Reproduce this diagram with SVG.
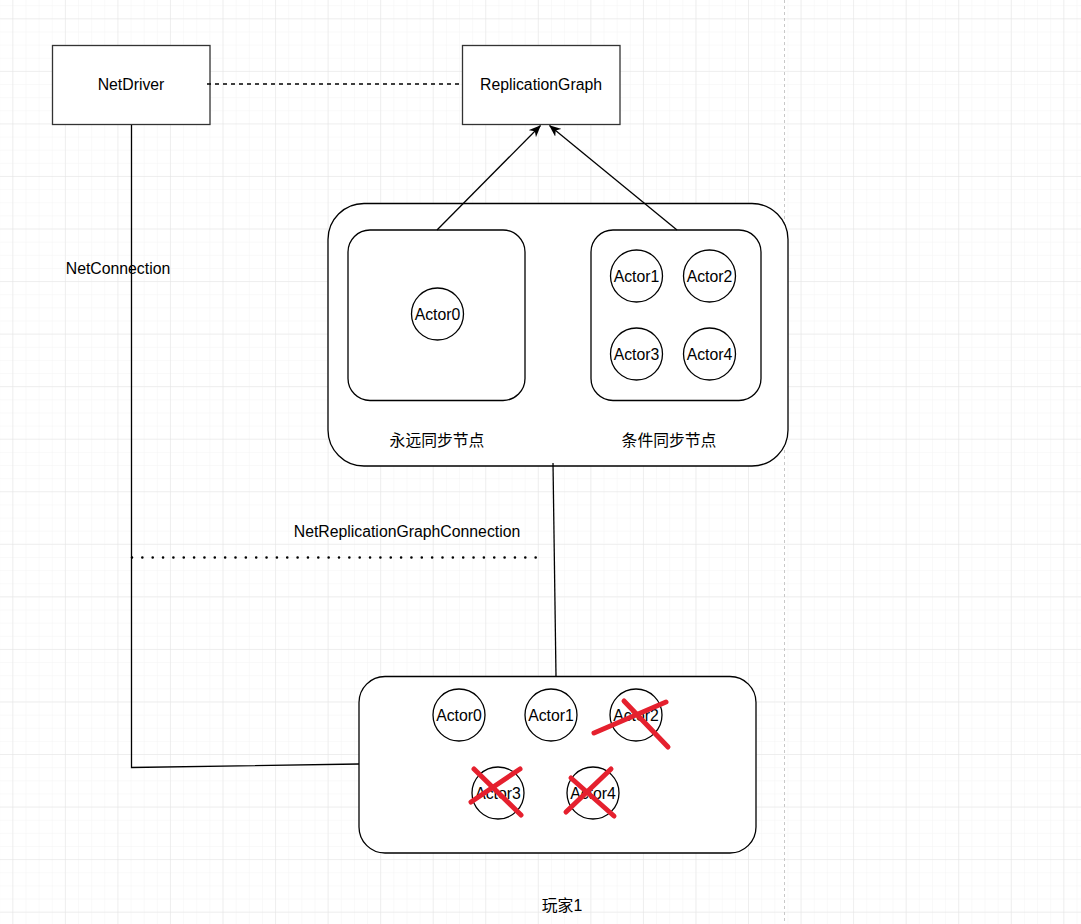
<svg xmlns="http://www.w3.org/2000/svg" width="1081" height="924" viewBox="0 0 1081 924">
<defs>
<pattern id="minor" x="0.16" y="6.16" width="13.1375" height="13.1375" patternUnits="userSpaceOnUse">
<path d="M13.1375 0V13.1375M0 13.1375H13.1375" fill="none" stroke="#f3f3f3" stroke-width="1"/>
</pattern>
<pattern id="major" x="-39.25" y="-33.25" width="52.55" height="52.55" patternUnits="userSpaceOnUse">
<path d="M52.55 0V52.55M0 52.55H52.55" fill="none" stroke="#e4e4e4" stroke-width="1"/>
</pattern>
<marker id="arr" viewBox="0 0 12 10" refX="11.5" refY="5" markerWidth="12" markerHeight="10" markerUnits="userSpaceOnUse" orient="auto">
<path d="M0 0L12 5L0 10L3.5 5Z" fill="#000"/>
</marker>
<style>
.t{font-family:"Liberation Sans",Arial,"Noto Sans CJK SC",sans-serif;font-size:15.8px;fill:#000;text-anchor:middle;dominant-baseline:central}
.box{fill:#fff;stroke:#333;stroke-width:1.3}
.rbox{fill:#fff;stroke:#000;stroke-width:1.3}
.c{fill:#fff;stroke:#000;stroke-width:1.3}
.ln{fill:none;stroke:#000;stroke-width:1.3}
.x{stroke:#e5202e;stroke-width:5;stroke-linecap:round}
</style>
</defs>
<rect width="1081" height="924" fill="#fff"/>
<rect width="1081" height="924" fill="url(#minor)"/>
<rect width="1081" height="924" fill="url(#major)"/>
<line x1="784.5" y1="0" x2="784.5" y2="924" stroke="#c8c8c8" stroke-width="1" stroke-dasharray="3 3"/>

<g id="netdriver">
<rect class="box" x="52.5" y="45.5" width="157.5" height="79"/>
<text class="t" x="131" y="84.5">NetDriver</text>
</g>
<g id="replicationgraph">
<rect class="box" x="462.5" y="45.5" width="157.5" height="79"/>
<text class="t" x="541" y="84.5">ReplicationGraph</text>
</g>

<g id="graph-container">
<rect class="rbox" x="328" y="203.5" width="460" height="262.5" rx="36" ry="36"/>
<text class="t" x="437" y="440">永远同步节点</text>
<text class="t" x="669" y="440">条件同步节点</text>
</g>
<g id="always-node">
<rect class="rbox" x="348" y="230" width="177" height="170.5" rx="22" ry="22"/>
</g>
<g id="cond-node">
<rect class="rbox" x="591" y="230" width="170" height="170.5" rx="22" ry="22"/>
</g>
<g id="g-actor0"><circle class="c" cx="437.5" cy="314" r="26"/><text class="t" x="437.5" y="314">Actor0</text></g>
<g id="g-actor1"><circle class="c" cx="636.5" cy="276" r="26"/><text class="t" x="636.5" y="276">Actor1</text></g>
<g id="g-actor2"><circle class="c" cx="709.5" cy="276" r="26"/><text class="t" x="709.5" y="276">Actor2</text></g>
<g id="g-actor3"><circle class="c" cx="636.5" cy="354" r="26"/><text class="t" x="636.5" y="354">Actor3</text></g>
<g id="g-actor4"><circle class="c" cx="709.5" cy="354" r="26"/><text class="t" x="709.5" y="354">Actor4</text></g>

<g id="label-netconnection"><text class="t" x="118" y="268.5">NetConnection</text></g>
<g id="label-nrgc"><text class="t" x="407" y="531">NetReplicationGraphConnection</text></g>

<g id="player1">
<rect class="rbox" x="359" y="676.5" width="397" height="176.5" rx="26" ry="26"/>
</g>
<g id="p-actor0"><circle class="c" cx="459" cy="715" r="26"/><text class="t" x="459" y="715">Actor0</text></g>
<g id="p-actor1"><circle class="c" cx="551" cy="715" r="26"/><text class="t" x="551" y="715">Actor1</text></g>
<g id="p-actor2"><circle class="c" cx="636" cy="715" r="26"/><text class="t" x="636" y="715">Actor2</text></g>
<g id="p-actor3"><circle class="c" cx="498" cy="793" r="26"/><text class="t" x="498" y="793">Actor3</text></g>
<g id="p-actor4"><circle class="c" cx="593" cy="793" r="26"/><text class="t" x="593" y="793">Actor4</text></g>
<g id="crosses">
<line class="x" x1="594" y1="733" x2="666" y2="702"/>
<line class="x" x1="624" y1="701" x2="668" y2="747"/>
<line class="x" x1="474" y1="769" x2="521" y2="815"/>
<line class="x" x1="520" y1="769" x2="471" y2="802"/>
<line class="x" x1="571" y1="778" x2="614" y2="816"/>
<line class="x" x1="611" y1="769" x2="566" y2="812"/>
</g>
<g id="label-player1"><text class="t" x="562" y="905">玩家1</text></g>

<g id="connectors">
<line class="ln" x1="207" y1="84" x2="463" y2="84" stroke-dasharray="4 4"/>
<polyline class="ln" points="131.5,125 131.5,767.5 359,764"/>
<line class="ln" x1="437" y1="230" x2="540.5" y2="125.5" marker-end="url(#arr)"/>
<line class="ln" x1="677" y1="230" x2="549.5" y2="125.5" marker-end="url(#arr)"/>
<line class="ln" x1="553" y1="463" x2="556" y2="676"/>
<line x1="132" y1="557.5" x2="546" y2="557.5" stroke="#000" stroke-width="2.6" stroke-dasharray="0 10.35" stroke-linecap="round"/>
</g>
</svg>
